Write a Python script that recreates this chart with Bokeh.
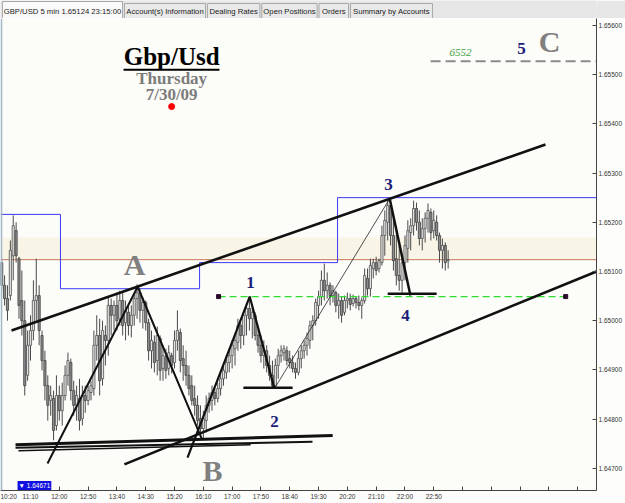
from bokeh.plotting import figure
from bokeh.models import Range1d, FixedTicker, NumeralTickFormatter, BoxAnnotation, Label, ColumnDataSource
from bokeh.layouts import column
from bokeh.embed import file_html
from bokeh.resources import INLINE
from bokeh.core.properties import value

# ---------------- data (GBP/USD 5-min bars, 10:20 .. 23:15) ----------------
opens = [1.65118, 1.65072, 1.65045, 1.65051, 1.65132, 1.65183, 1.65126, 1.65041, 1.65000, 1.64889,
         1.64950, 1.64980, 1.65041, 1.65051, 1.64970, 1.64919, 1.64868, 1.64838, 1.64842, 1.64787,
         1.64848, 1.64817, 1.64848, 1.64889, 1.64915, 1.64858, 1.64828, 1.64842, 1.64801, 1.64848,
         1.64838, 1.64854, 1.64862, 1.64950, 1.64970, 1.64882, 1.64970, 1.64960, 1.65031, 1.65011,
         1.65031, 1.65004, 1.65041, 1.64996, 1.65017, 1.64990, 1.65011, 1.65045, 1.65057, 1.65021,
         1.65037, 1.64996, 1.64939, 1.64956, 1.64919, 1.64964, 1.64903, 1.64927, 1.64903, 1.64929,
         1.64915, 1.64960, 1.64976, 1.64923, 1.64909, 1.64889, 1.64868, 1.64842, 1.64828, 1.64801,
         1.64781, 1.64797, 1.64828, 1.64838, 1.64854, 1.64842, 1.64862, 1.64882, 1.64895, 1.64915,
         1.64929, 1.64943, 1.64956, 1.64990, 1.64970, 1.65011, 1.65025, 1.65004, 1.65011, 1.64970,
         1.64950, 1.64929, 1.64939, 1.64909, 1.64889, 1.64868, 1.64909, 1.64929, 1.64935, 1.64939,
         1.64923, 1.64915, 1.64903, 1.64895, 1.64923, 1.64939, 1.64950, 1.64960, 1.64990, 1.65000,
         1.65031, 1.65049, 1.65082, 1.65061, 1.65072, 1.65051, 1.65057, 1.65031, 1.65041, 1.65017,
         1.65041, 1.65045, 1.65035, 1.65045, 1.65037, 1.65031, 1.65041, 1.65086, 1.65065, 1.65106,
         1.65118, 1.65106, 1.65118, 1.65173, 1.65200, 1.65234, 1.65173, 1.65126, 1.65092, 1.65082,
         1.65118, 1.65147, 1.65179, 1.65193, 1.65228, 1.65200, 1.65167, 1.65187, 1.65208, 1.65220,
         1.65183, 1.65200, 1.65173, 1.65143, 1.65153, 1.65122]
highs = [1.65126, 1.65092, 1.65072, 1.65163, 1.65214, 1.65200, 1.65130, 1.65102, 1.65041, 1.64980,
         1.65011, 1.65082, 1.65126, 1.65072, 1.64980, 1.64939, 1.64889, 1.64868, 1.64858, 1.64889,
         1.64868, 1.64874, 1.64909, 1.64935, 1.64923, 1.64878, 1.64868, 1.64882, 1.64868, 1.64868,
         1.64868, 1.64878, 1.64980, 1.65011, 1.65004, 1.65000, 1.64990, 1.65049, 1.65045, 1.65041,
         1.65057, 1.65061, 1.65057, 1.65041, 1.65031, 1.65031, 1.65057, 1.65074, 1.65065, 1.65047,
         1.65041, 1.65004, 1.64980, 1.64970, 1.64988, 1.64970, 1.64950, 1.64943, 1.64950, 1.64935,
         1.64980, 1.65021, 1.64984, 1.64950, 1.64939, 1.64909, 1.64889, 1.64868, 1.64848, 1.64828,
         1.64817, 1.64848, 1.64854, 1.64868, 1.64862, 1.64874, 1.64895, 1.64909, 1.64929, 1.64939,
         1.64960, 1.64970, 1.65004, 1.64996, 1.65021, 1.65037, 1.65049, 1.65031, 1.65017, 1.64984,
         1.64970, 1.64960, 1.64950, 1.64929, 1.64919, 1.64923, 1.64943, 1.64950, 1.64950, 1.64948,
         1.64939, 1.64929, 1.64915, 1.64939, 1.64950, 1.64960, 1.64976, 1.65000, 1.65011, 1.65045,
         1.65061, 1.65102, 1.65116, 1.65098, 1.65078, 1.65072, 1.65061, 1.65055, 1.65049, 1.65051,
         1.65057, 1.65055, 1.65053, 1.65049, 1.65051, 1.65047, 1.65106, 1.65106, 1.65126, 1.65126,
         1.65130, 1.65126, 1.65193, 1.65224, 1.65244, 1.65250, 1.65214, 1.65193, 1.65153, 1.65132,
         1.65173, 1.65204, 1.65208, 1.65244, 1.65240, 1.65224, 1.65208, 1.65220, 1.65238, 1.65228,
         1.65224, 1.65214, 1.65179, 1.65167, 1.65159, 1.65143]
lows = [1.65061, 1.65031, 1.65000, 1.65041, 1.65082, 1.65118, 1.65004, 1.64970, 1.64848, 1.64878,
        1.64919, 1.64960, 1.65000, 1.64950, 1.64899, 1.64838, 1.64797, 1.64807, 1.64757, 1.64777,
        1.64797, 1.64787, 1.64838, 1.64868, 1.64838, 1.64807, 1.64797, 1.64777, 1.64787, 1.64813,
        1.64828, 1.64838, 1.64848, 1.64919, 1.64848, 1.64868, 1.64909, 1.64929, 1.64970, 1.64980,
        1.64980, 1.64990, 1.64970, 1.64960, 1.64970, 1.64966, 1.64990, 1.65004, 1.64996, 1.64984,
        1.64980, 1.64919, 1.64903, 1.64895, 1.64889, 1.64878, 1.64878, 1.64882, 1.64889, 1.64893,
        1.64903, 1.64939, 1.64895, 1.64878, 1.64868, 1.64848, 1.64828, 1.64807, 1.64787, 1.64773,
        1.64761, 1.64773, 1.64813, 1.64817, 1.64828, 1.64834, 1.64848, 1.64868, 1.64882, 1.64895,
        1.64903, 1.64909, 1.64939, 1.64943, 1.64950, 1.64970, 1.64980, 1.64964, 1.64960, 1.64935,
        1.64915, 1.64903, 1.64895, 1.64878, 1.64862, 1.64862, 1.64882, 1.64915, 1.64919, 1.64909,
        1.64903, 1.64895, 1.64882, 1.64889, 1.64903, 1.64923, 1.64929, 1.64943, 1.64960, 1.64990,
        1.65004, 1.65031, 1.65041, 1.65045, 1.65031, 1.65037, 1.65017, 1.65004, 1.64996, 1.65011,
        1.65025, 1.65021, 1.65029, 1.65025, 1.65021, 1.65004, 1.65035, 1.65051, 1.65049, 1.65086,
        1.65092, 1.65098, 1.65112, 1.65132, 1.65163, 1.65153, 1.65102, 1.65072, 1.65061, 1.65057,
        1.65082, 1.65118, 1.65143, 1.65173, 1.65183, 1.65153, 1.65143, 1.65159, 1.65179, 1.65163,
        1.65167, 1.65163, 1.65118, 1.65106, 1.65102, 1.65106]
closes = [1.65072, 1.65045, 1.65021, 1.65143, 1.65193, 1.65132, 1.65031, 1.65000, 1.64868, 1.64950,
          1.64980, 1.65041, 1.65051, 1.64980, 1.64919, 1.64868, 1.64828, 1.64848, 1.64777, 1.64848,
          1.64817, 1.64848, 1.64889, 1.64919, 1.64858, 1.64828, 1.64848, 1.64797, 1.64848, 1.64838,
          1.64858, 1.64868, 1.64950, 1.64970, 1.64878, 1.64980, 1.64960, 1.65031, 1.65011, 1.65031,
          1.65000, 1.65041, 1.64990, 1.65021, 1.64990, 1.65011, 1.65045, 1.65057, 1.65021, 1.65037,
          1.64996, 1.64939, 1.64960, 1.64915, 1.64970, 1.64899, 1.64929, 1.64899, 1.64935, 1.64909,
          1.64960, 1.64980, 1.64919, 1.64909, 1.64889, 1.64862, 1.64838, 1.64828, 1.64797, 1.64781,
          1.64801, 1.64828, 1.64842, 1.64854, 1.64842, 1.64862, 1.64882, 1.64899, 1.64915, 1.64929,
          1.64950, 1.64960, 1.64990, 1.64970, 1.65011, 1.65025, 1.65004, 1.65017, 1.64970, 1.64950,
          1.64929, 1.64939, 1.64909, 1.64889, 1.64868, 1.64909, 1.64929, 1.64939, 1.64943, 1.64919,
          1.64915, 1.64903, 1.64895, 1.64923, 1.64939, 1.64950, 1.64964, 1.64990, 1.65000, 1.65037,
          1.65049, 1.65082, 1.65061, 1.65072, 1.65051, 1.65061, 1.65031, 1.65041, 1.65011, 1.65041,
          1.65045, 1.65033, 1.65045, 1.65037, 1.65031, 1.65041, 1.65092, 1.65065, 1.65112, 1.65118,
          1.65102, 1.65122, 1.65173, 1.65204, 1.65234, 1.65173, 1.65122, 1.65092, 1.65082, 1.65118,
          1.65153, 1.65183, 1.65193, 1.65228, 1.65200, 1.65167, 1.65187, 1.65208, 1.65224, 1.65179,
          1.65204, 1.65173, 1.65143, 1.65153, 1.65118, 1.65124]

time_labels = ["10:20", "11:10", "12:00", "12:50", "13:40", "14:30", "15:20", "16:10",
               "17:00", "17:50", "18:40", "19:30", "20:20", "21:10", "22:00", "22:50"]
price_ticks = [1.647, 1.648, 1.649, 1.650, 1.651, 1.652, 1.653, 1.654, 1.655, 1.656]

last_price = 1.65124
range_high = 1.65250
day_low = 1.64671
target_level = 1.65527
green_level = 1.65049
# previous-range step line (bar index, price)
step_x = [-0.42, 20.4, 20.4, 68.7, 68.7, 116.6, 116.6, 206.5]
step_y = [1.65216, 1.65216, 1.65065, 1.65065, 1.65118, 1.65118, 1.65250, 1.65250]

tab_names = ["GBP/USD 5 min 1.65124 23:15:00", "Account(s) Information", "Dealing Rates",
             "Open Positions", "Orders", "Summary by Accounts"]
tab_left = [2, 130, 217, 274, 334, 367]
tab_right = [128, 215, 272, 332, 365, 453]

# ---------------- tab bar ----------------
tabs = figure(width=625, height=18, x_range=Range1d(0, 625), y_range=Range1d(18, 0),
              toolbar_location=None, output_backend="svg", min_border=0,
              x_axis_location=None, y_axis_location=None)
tabs.grid.visible = False
tabs.outline_line_color = None
tabs.background_fill_color = "#E6E6E6"
tabs.border_fill_color = "#E6E6E6"
tab_fill = ["#FAFAFA"] + ["#E9E9E9"] * (len(tab_names) - 1)
tab_top = [1] + [3] * (len(tab_names) - 1)
tabs.quad(left=tab_left, right=tab_right, top=tab_top, bottom=[18.5] * len(tab_names),
          fill_color=tab_fill, line_color="#A8A8A8", line_width=1)
tabs.text(x=[(a + b) / 2 for a, b in zip(tab_left, tab_right)], y=[11] * len(tab_names),
          text=tab_names, text_font=value("Liberation Sans"), text_font_size="7.7px",
          text_color="#222222", text_align="center", text_baseline="middle")

# ---------------- main chart ----------------
p = figure(width=625, height=485, x_range=Range1d(-0.42, 206.5), y_range=Range1d(1.64655, 1.65614),
           y_axis_location="right", toolbar_location=None, output_backend="svg",
           min_border_left=0, min_border_top=0, min_border_right=29, min_border_bottom=13)
p.background_fill_color = "#FCFCF9"
p.border_fill_color = "#FDFDFB"
p.outline_line_color = None
p.xgrid.visible = False
p.ygrid.visible = False

tick_idx = list(range(0, 201, 10))
overrides = {}
for k, t in enumerate(tick_idx):
    overrides[t] = time_labels[k] if k < len(time_labels) else ""
p.xaxis.ticker = FixedTicker(ticks=tick_idx)
p.xaxis.major_label_overrides = overrides
p.yaxis.ticker = FixedTicker(ticks=price_ticks)
p.yaxis.formatter = NumeralTickFormatter(format="0.00000")
for ax in (p.xaxis, p.yaxis):
    ax.major_tick_in = 4
    ax.major_tick_out = 0
    ax.minor_tick_line_color = None
    ax.axis_line_color = "#444444"
    ax.major_tick_line_color = "#444444"
    ax.major_label_text_font = "Liberation Sans"
    ax.major_label_text_font_size = "6.5px"
    ax.major_label_text_color = "#333333"
    ax.major_label_standoff = 2

# shaded band and last-price line
p.add_layout(BoxAnnotation(bottom=1.65126, top=1.65169, fill_color="#F3E8C2", fill_alpha=0.35,
                           line_color=None, level="underlay"))
p.line([-0.42, 206.5], [last_price, last_price], line_color="#C8765A", line_width=1)
p.line(step_x, step_y, line_color="#3A3AF5", line_width=1)

# candles
idx = list(range(len(opens)))
up = [i for i in idx if closes[i] >= opens[i]]
dn = [i for i in idx if closes[i] < opens[i]]
p.segment(idx, highs, idx, lows, line_color="#4A4A4A", line_width=1)
src_up = ColumnDataSource(dict(x=up, top=[closes[i] for i in up], bottom=[opens[i] for i in up]))
src_dn = ColumnDataSource(dict(x=dn, top=[opens[i] for i in dn], bottom=[closes[i] for i in dn]))
p.vbar(x="x", top="top", bottom="bottom", width=0.75, source=src_up,
       fill_color="#E4E4E4", line_color="#505050", line_width=0.8)
p.vbar(x="x", top="top", bottom="bottom", width=0.75, source=src_dn,
       fill_color="#8C8C8C", line_color="#404040", line_width=0.8)

# green dashed level
p.line([75.3, 195.8], [green_level, green_level], line_color="#2FDC2F", line_width=1.3, line_dash="7 4")
p.scatter([75.3, 195.8], [green_level, green_level], marker="square", size=4, color="#2A0A2A")

# grey target level
p.line([148.9, 206.5], [target_level, target_level], line_color="#8A8A8A", line_width=2, line_dash="10 5")

# channel lines
p.line([3.4, 188.8], [1.64980, 1.65358], line_color="#111111", line_width=2.6)
p.line([42.6, 206.5], [1.64708, 1.65100], line_color="#111111", line_width=2.6)
# support lines at bottom
p.line([4.8, 114.9], [1.64748, 1.64767], line_color="#111111", line_width=3)
p.line([4.8, 107.9], [1.64742, 1.64754], line_color="#111111", line_width=2)
p.line([5.8, 86.4], [1.64736, 1.64748], line_color="#111111", line_width=1.5)

# zigzags
p.line([15.9, 47.2, 69.4], [1.64710, 1.65069, 1.64761], line_color="#111111", line_width=2)
p.line([64.5, 86.1, 94.7], [1.64722, 1.65049, 1.64862], line_color="#111111", line_width=2.2)
p.line([83.9, 101.0], [1.64864, 1.64864], line_color="#111111", line_width=2.5)
p.line([94.7, 134.7], [1.64862, 1.65248], line_color="#222222", line_width=0.8)
p.line([134.7, 141.9], [1.65248, 1.65051], line_color="#111111", line_width=2.5)
p.line([134.0, 151.0], [1.65055, 1.65055], line_color="#111111", line_width=2.5)

serif = value("Liberation Serif")
# title block
p.text(x=[59], y=[1.65537], text=["Gbp/Usd"], text_font=serif, text_font_style="bold",
       text_font_size="25px", text_color="#000000", text_align="center", text_baseline="middle")
p.line([42.3, 75.6], [1.65510, 1.65510], line_color="#000000", line_width=2)
p.text(x=[59, 59], y=[1.65492, 1.65460], text=["Thursday", "7/30/09"], text_font=serif,
       text_font_style="bold", text_font_size="17px", text_color="#7C7C7C",
       text_align="center", text_baseline="middle")
p.scatter([59], [1.65435], size=6, color="#FF0000")

# pattern letters
p.text(x=[46.1, 73.2, 190.2], y=[1.65114, 1.64696, 1.65567], text=["A", "B", "C"], text_font=serif,
       text_font_style="bold", text_font_size="30px", text_color="#808080",
       text_align="center", text_baseline="middle")
p.text(x=[86.4, 94.7, 134.3, 140.2, 180.5], y=[1.65078, 1.64795, 1.65277, 1.65011, 1.65553],
       text=["1", "2", "3", "4", "5"], text_font=serif, text_font_style="bold",
       text_font_size="17px", text_color="#1B1B78", text_align="center", text_baseline="middle")
p.text(x=[159.3], y=[1.65544], text=["6552"], text_font=serif, text_font_style="italic",
       text_font_size="11px", text_color="#3DA23D", text_align="center", text_baseline="middle")

# left edge strip
p.add_layout(BoxAnnotation(left=-0.42, right=0.2, fill_color="#A3B9CA", fill_alpha=1, line_color=None))

# price flags on the axis
p.add_layout(Label(x=206.6, y=range_high, text="1.65250", text_color="white", text_font="Liberation Sans",
                   text_font_size="6.5px", text_baseline="middle", background_fill_color="#1414F0",
                   padding=1))
p.add_layout(Label(x=206.6, y=last_price, text="1.65124", text_color="white", text_font="Liberation Sans",
                   text_font_size="6.5px", text_baseline="middle", background_fill_color="#8B0A0A",
                   padding=1))
p.add_layout(Label(x=5.5, y=1.64665, text="\u25bc 1.64671", text_color="white", text_font="Liberation Sans",
                   text_font_size="6.5px", text_baseline="middle", background_fill_color="#1010E0",
                   padding=1))

layout = column(tabs, p, spacing=0)
open("out.html", "w").write(file_html(layout, INLINE))
